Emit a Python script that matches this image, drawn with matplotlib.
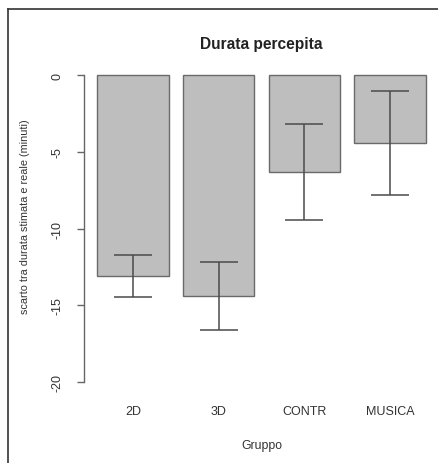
"""
Bar chart of perceived duration error per group, with error bars.
"""

import matplotlib
matplotlib.use("Agg")
import matplotlib.pyplot as plt
from matplotlib.lines import Line2D

# data
groups = ["2D", "3D", "CONTR", "MUSICA"]
means = [-13.1, -14.4, -6.3, -4.4]
errors = [1.4, 2.2, 3.15, 3.4]
yticks = [0, -5, -10, -15, -20]

plt.rcParams['font.family'] = ['Liberation Sans', 'DejaVu Sans']

W, H = 438, 464
fig = plt.figure(figsize=(W / 100, H / 100), dpi=100)

# plot region in pixels (left, top, right, bottom)
left, top, right, bottom = 84, 64, 439, 395
ax = fig.add_axes([left / W, 1 - bottom / H, (right - left) / W, (bottom - top) / H])

# R-style barplot positions: width 1, space 0.2
centers = [0.7 + 1.2 * i for i in range(len(groups))]
ax.bar(centers, means, width=1.0, color="#bebebe", edgecolor="#6a6a6a", linewidth=1.0)
ax.errorbar(centers, means, yerr=errors, fmt="none", ecolor="#4a4a4a",
            elinewidth=1.1, capsize=14, capthick=1.1)

ax.set_xlim(0.016, 4.984)
ax.set_ylim(-20.8, 0.8)

for s in ["top", "right", "bottom"]:
    ax.spines[s].set_visible(False)
ax.spines["left"].set_bounds(-20, 0)
ax.spines["left"].set_color("#666666")
ax.spines["left"].set_linewidth(1.0)

ax.set_yticks(yticks)
ax.set_yticklabels([str(v) for v in yticks], rotation=90, va="center", fontsize=9,
                   color="#333333")
ax.tick_params(axis="y", length=5, width=1.0, color="#666666", pad=10)

ax.set_xticks(centers)
ax.set_xticklabels(groups, fontsize=9, color="#333333")
ax.tick_params(axis="x", length=0, pad=8)

ax.set_ylabel("scarto tra durata stimata e reale (minuti)", fontsize=7.8, color="#333333")
ax.yaxis.set_label_coords((30 - left) / (right - left), (bottom - 217) / (bottom - top))
ax.set_xlabel("Gruppo", fontsize=8.8, color="#333333")
ax.xaxis.set_label_coords(0.5, (bottom - 440) / (bottom - top))

ax.text(0.5, (bottom - 45) / (bottom - top), "Durata percepita", transform=ax.transAxes,
        ha="center", va="center", fontsize=11.2, fontweight="bold", color="#222222")

# frame lines along the top and left edges of the image
fig.add_artist(Line2D([8 / W, 1], [1 - 10 / H, 1 - 10 / H], color="#333333", linewidth=1.2))
fig.add_artist(Line2D([8 / W, 8 / W], [0, 1 - 10 / H], color="#333333", linewidth=1.2))

fig.savefig("out.png", dpi=100)
